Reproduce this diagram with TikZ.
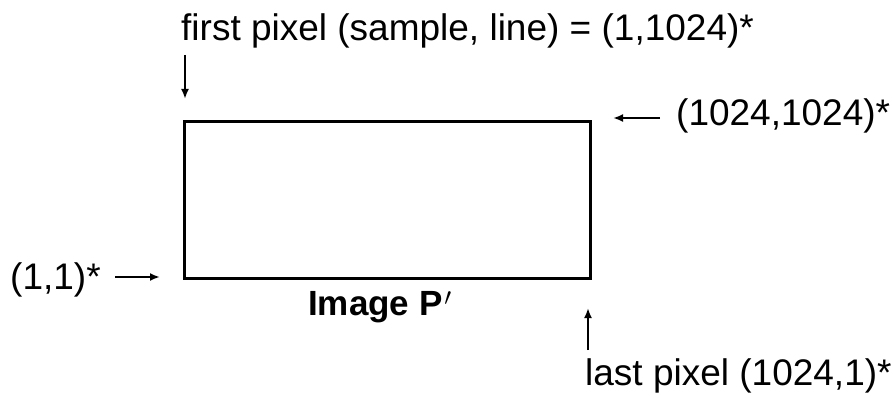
\documentclass[tikz,border=0pt]{standalone}
\usepackage{fontspec}
\setmainfont{Liberation Sans}
\usetikzlibrary{arrows.meta}
\begin{document}
\begin{tikzpicture}[x=1pt,y=-1pt,
  lbl/.style={font=\fontsize{37}{40}\selectfont, inner sep=0pt},
  ttl/.style={font=\fontsize{35}{38}\selectfont\bfseries, inner sep=0pt},
  arr/.style={line width=2.2pt,-{Latex[length=10pt,width=8pt]}}]
\useasboundingbox (0,0) rectangle (894,398);
\node[draw, line width=2.6pt, minimum width=406pt, minimum height=157pt, inner sep=0pt, anchor=north west] (img) at (183,120) {};
\node[lbl, anchor=base west] (first) at (181,41) {first pixel (sample, line) = (1,1024)*};
\coordinate (fa) at (185,55);
\coordinate (fb) at (185,99);
\draw[arr] (fa) -- (fb);
\node[lbl, anchor=base west] (tr) at (676,126) {(1024,1024)*};
\coordinate (ta) at (660,118);
\coordinate (tb) at (613,118);
\draw[arr] (ta) -- (tb);
\node[lbl, anchor=base west] (bl) at (10,289) {(1,1)*};
\coordinate (la) at (115,277);
\coordinate (lb) at (160,277);
\draw[arr] (la) -- (lb);
\node[ttl, anchor=base west] (title) at (308,315) {Image P\kern2pt$'$};
\node[lbl, anchor=base west] (last) at (585,385) {last pixel (1024,1)*};
\coordinate (ua) at (588,350);
\coordinate (ub) at (588,308);
\draw[arr] (ua) -- (ub);
\end{tikzpicture}
\end{document}
